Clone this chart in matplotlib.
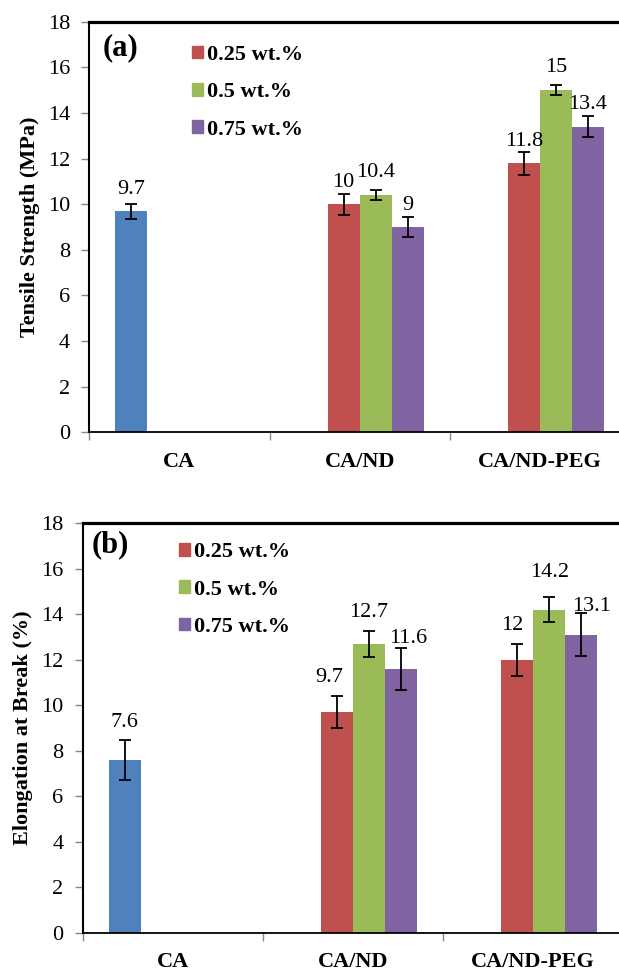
import numpy as np
import matplotlib
matplotlib.use("Agg")
import matplotlib.pyplot as plt
from matplotlib.patches import Patch

plt.rcParams["font.family"] = ["Liberation Serif", "DejaVu Serif"]

# Dados
categorias = ["CA", "CA/ND", "CA/ND-PEG"]
cargas = ["0.25 wt.%", "0.5 wt.%", "0.75 wt.%"]

# (a) Tensile Strength (MPa)
ts_ca = 9.7
ts_ca_err = 0.33
ts_025 = [10.0, 11.8]
ts_05 = [10.4, 15.0]
ts_075 = [9.0, 13.4]
ts_025_err = [0.45, 0.5]
ts_05_err = [0.22, 0.23]
ts_075_err = [0.45, 0.45]

# (b) Elongation at Break (%)
eb_ca = 7.6
eb_ca_err = 0.87
eb_025 = [9.7, 12.0]
eb_05 = [12.7, 14.2]
eb_075 = [11.6, 13.1]
eb_025_err = [0.7, 0.7]
eb_05_err = [0.57, 0.55]
eb_075_err = [0.93, 0.94]

# deslocamento dos rótulos (px) em relação ao topo da barra: CA, depois 0.25/0.5/0.75 x 2
rot_a_dx = [0, 0, 0, 0, 0, 0, 0]
rot_a_dy = [22, 22, 22, 23, 23, 22, 22]
rot_b_dx = [0, -8, -5, 0, 0, 7, 10]
rot_b_dy = [37, 35, 34, 31, 37, 30, 28]

cores = ["#C0504D", "#9BBB59", "#8064A2"]
cor_ca = "#4F81BD"
larg = 0.1778


def desenhar(ax, v_ca, e_ca, series, erros, ylabel, letra, dxs, dys, leg_pos, letra_pos):
    x = np.arange(len(categorias))
    ek = dict(ecolor="black", elinewidth=1.3, capsize=4, capthick=1.3)
    barras = []
    b = ax.bar(x[0] - 1.5 * larg, v_ca, larg, yerr=e_ca, color=cor_ca, error_kw=ek, zorder=2)
    barras.append((b[0], v_ca))
    for i, (vals, errs) in enumerate(zip(series, erros)):
        b = ax.bar(x[1:] + (i - 0.5) * larg, vals, larg, yerr=errs, color=cores[i],
                   error_kw=ek, zorder=2)
        for r, v in zip(b, vals):
            barras.append((r, v))

    for (r, v), dx, dy in zip(barras, dxs, dys):
        ax.annotate(f"{v:g}", (r.get_x() + r.get_width() / 2, v), xytext=(dx, dy),
                    textcoords="offset pixels", ha="center", va="center", fontsize=16)

    ax.set_xlim(-0.5, 2.5)
    ax.set_ylim(0, 18)
    ax.set_yticks(np.arange(0, 19, 2))
    ax.set_xticks(x)
    ax.set_xticklabels(categorias, fontsize=16, fontweight="bold")
    ax.set_xticks([-0.5, 0.5, 1.5, 2.5], minor=True)
    ax.tick_params(axis="x", which="major", length=0, pad=14)
    ax.tick_params(axis="x", which="minor", length=6, color="#888888", width=1)
    ax.tick_params(axis="y", length=6, color="#888888", width=1, pad=8, labelsize=16)

    ax.spines["top"].set_linewidth(2.3)
    ax.spines["left"].set_linewidth(1.5)
    ax.spines["bottom"].set_linewidth(1.3)
    ax.spines["right"].set_linewidth(2.3)

    ax.set_ylabel(ylabel, fontsize=16, fontweight="bold")
    ax.yaxis.set_label_coords(-0.092, 0.5)

    ax.text(letra_pos[0], letra_pos[1], letra, transform=ax.transAxes, fontsize=22,
            fontweight="bold", ha="left", va="center")

    handles = [Patch(color=c) for c in cores]
    ax.legend(handles, cargas, loc="upper left", bbox_to_anchor=leg_pos, frameon=False,
              prop=dict(size=16, weight="bold"), handlelength=0.5, handleheight=0.5,
              handletextpad=0.15, labelspacing=0.78, borderaxespad=0)


fig = plt.figure(figsize=(6.19, 9.72), dpi=100)
ax1 = fig.add_axes([0.1443, 0.5552, 0.8735, 0.4224])
ax2 = fig.add_axes([0.1336, 0.0401, 0.8734, 0.4218])

desenhar(ax1, ts_ca, ts_ca_err, [ts_025, ts_05, ts_075], [ts_025_err, ts_05_err, ts_075_err],
         "Tensile Strength (MPa)", "(a)", rot_a_dx, rot_a_dy, (0.174, 0.965), (0.025, 0.936))
desenhar(ax2, eb_ca, eb_ca_err, [eb_025, eb_05, eb_075], [eb_025_err, eb_05_err, eb_075_err],
         "Elongation at Break (%)", "(b)", rot_b_dx, rot_b_dy, (0.162, 0.975), (0.017, 0.946))

fig.savefig("out.png", dpi=100)
